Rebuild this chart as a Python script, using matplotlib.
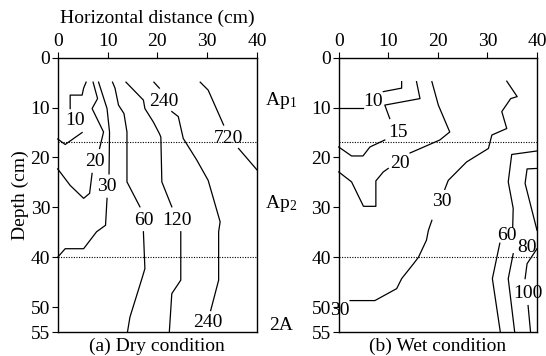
"""
Contour maps of dry and wet condition along a soil profile.
"""
import matplotlib.pyplot as plt

plt.rcParams['font.family'] = ['Liberation Serif', 'DejaVu Serif']
plt.rcParams['mathtext.fontset'] = 'stix'

# contour segments (x cm, depth cm), each contour is broken where its label sits
dry_10 = [[(2.5, 10.2), (2.5, 7.5), (4.9, 7.5), (5.2, 6.1), (5.7, 4.9)],
          [(4.9, 15.0), (1.5, 17.4), (0.0, 16.3)]]
dry_20 = [[(7.1, 4.9), (8.0, 8.2), (6.9, 10.2), (9.2, 14.9), (8.4, 18.2)],
          [(6.9, 23.2), (6.4, 27.2), (5.2, 28.2), (2.5, 25.6), (0.0, 22.3)]]
dry_30 = [[(8.2, 4.9), (9.9, 10.2), (10.4, 14.9), (10.3, 23.3)],
          [(9.9, 28.2), (9.6, 33.6), (7.8, 34.9), (5.2, 38.3), (1.5, 38.3), (0.0, 40.0)]]
dry_60 = [[(11.0, 4.9), (11.5, 6.1), (12.2, 9.5), (13.3, 11.2), (13.9, 14.9),
           (13.9, 24.9), (16.5, 29.9)],
          [(17.2, 34.9), (17.5, 42.3), (16.9, 44.3), (14.5, 52.0), (14.0, 55.0)]]
dry_120 = [[(13.7, 4.9), (17.2, 8.5), (17.5, 10.2), (19.2, 12.9), (20.4, 15.2),
            (20.7, 15.9), (20.9, 24.9), (22.9, 29.9)],
           [(24.7, 34.9), (24.7, 44.6), (22.9, 47.3), (22.4, 55.0)]]
dry_240 = [[(19.3, 4.9), (20.4, 6.1)],
           [(22.9, 10.8), (24.2, 11.8), (25.2, 16.2), (27.9, 20.5), (30.2, 24.6),
            (32.6, 32.9), (32.3, 34.9), (32.3, 44.6), (30.7, 50.7)]]
dry_720 = [[(28.6, 4.9), (30.2, 6.5), (33.3, 13.5)],
           [(36.3, 18.2), (40.0, 22.5)]]
dry_labels = [('10', 3.5, 12.5), ('20', 7.4, 20.9), ('30', 9.9, 25.8),
              ('60', 17.3, 32.6), ('120', 23.9, 32.6), ('240', 21.2, 8.7),
              ('240', 30.2, 53.0), ('720', 34.3, 16.1)]

wet_10 = [[(0.0, 10.0), (5.0, 10.0)],
          [(9.0, 6.8), (12.7, 6.1), (12.7, 4.8)]]
wet_15 = [[(10.3, 12.2), (9.3, 9.5), (16.4, 8.2), (15.7, 4.8)],
          [(9.3, 16.5), (6.3, 17.9), (4.9, 19.7), (2.6, 19.7), (0.0, 17.9)]]
wet_20 = [[(18.8, 4.8), (20.1, 9.5), (22.4, 14.9), (20.4, 16.5), (14.4, 19.1)],
          [(10.0, 22.2), (9.0, 22.9), (7.5, 24.7), (7.5, 29.8), (5.0, 29.8),
           (2.6, 24.9), (0.0, 22.9)]]
wet_30 = [[(33.9, 4.7), (36.0, 7.8), (34.7, 8.2), (32.9, 10.8), (33.9, 14.2),
           (30.9, 15.5), (30.2, 18.2), (25.8, 20.9), (22.1, 24.6), (21.4, 26.4)],
          [(18.8, 32.6), (18.1, 34.6), (17.7, 36.6), (16.1, 40.0), (15.1, 41.3),
           (12.7, 44.3), (11.7, 46.3), (7.3, 48.7), (2.3, 48.7)]]
wet_60 = [[(40.0, 18.7), (34.9, 19.4), (34.2, 24.9), (35.2, 30.2), (35.1, 34.0)],
          [(32.5, 37.2), (31.0, 44.3), (32.6, 55.0)]]
wet_80 = [[(40.0, 22.2), (38.0, 22.3), (37.6, 25.2), (40.0, 34.6)],
          [(35.2, 39.3), (34.2, 44.3), (35.5, 55.0)]]
wet_100 = [[(40.0, 38.3), (38.0, 41.3), (37.6, 44.3)],
           [(38.2, 49.7), (38.7, 55.0)]]
wet_labels = [('10', 7.0, 8.7), ('15', 12.0, 14.9), ('20', 12.4, 21.2),
              ('30', 20.8, 28.9), ('30', 0.3, 50.6), ('60', 33.9, 35.7),
              ('80', 37.9, 38.0), ('100', 38.1, 47.3)]

horizon_depths = [17, 40]
horizon_names = [(r'Ap$_{\mathregular{1}}$', 8.5), (r'Ap$_{\mathregular{2}}$', 29.2),
                 ('2A', 53.7)]
x_ticks = [0, 10, 20, 30, 40]
y_ticks = [0, 10, 20, 30, 40, 50, 55]

FS = 14

fig = plt.figure(figsize=(5.46, 3.56), dpi=100)
ax1 = fig.add_axes([0.1057, 0.0674, 0.365, 0.7705])
ax2 = fig.add_axes([0.6203, 0.0674, 0.3632, 0.7705])


def draw_panel(ax, contours, labels, caption):
    for segs in contours:
        for seg in segs:
            xs = [p[0] for p in seg]
            ys = [p[1] for p in seg]
            ax.plot(xs, ys, color='black', linewidth=0.9, clip_on=False)
    for txt, x, y in labels:
        ax.text(x, y, txt, fontsize=FS, ha='center', va='center')
    for d in horizon_depths:
        ax.axhline(d, color='black', linewidth=0.8, linestyle=(0, (1, 1.3)))
    ax.set_xlim(0, 40)
    ax.set_ylim(55, 0)
    ax.set_xticks(x_ticks)
    ax.set_yticks(y_ticks)
    ax.xaxis.tick_top()
    ax.tick_params(direction='out', length=4, width=0.8, labelsize=FS, pad=1.5)
    for sp in ax.spines.values():
        sp.set_linewidth(1.0)
    ax.text(0.5, -0.02, caption, transform=ax.transAxes, ha='center', va='top',
            fontsize=FS)


draw_panel(ax1, [dry_10, dry_20, dry_30, dry_60, dry_120, dry_240, dry_720],
           dry_labels, '(a) Dry condition')
draw_panel(ax2, [wet_10, wet_15, wet_20, wet_30, wet_60, wet_80, wet_100],
           wet_labels, '(b) Wet condition')

ax1.xaxis.set_label_position('top')
ax1.set_xlabel('Horizontal distance (cm)', fontsize=FS, labelpad=7)
ax1.set_ylabel('Depth (cm)', fontsize=FS, labelpad=1)

for name, depth in horizon_names:
    ax1.text(44.8, depth, name, fontsize=FS, ha='center', va='center', clip_on=False)

plt.savefig('out.png', dpi=100)
plt.close()
